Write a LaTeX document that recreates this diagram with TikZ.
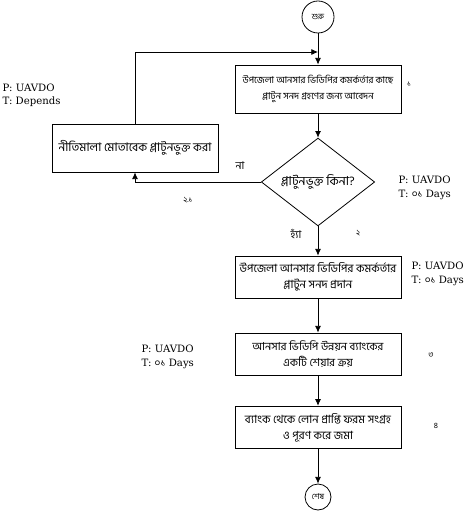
\documentclass[tikz,border=0pt]{standalone}
\usepackage{fontspec}
\setmainfont{DejaVu Serif}
\newfontfamily\bnfont[Script=Bengali]{Hind Siliguri}
\usetikzlibrary{shapes.geometric, arrows.meta}

\newcommand{\bnsize}[1]{\bnfont\fontsize{#1}{12}\selectfont}

\begin{document}
\begin{tikzpicture}[x=0.75pt, y=-0.75pt,
    procbox/.style={draw, semithick, minimum width=124.5pt, align=center,
        font=\bnsize{8}, inner sep=2pt},
    decision/.style={draw, semithick, diamond, minimum width=85pt, minimum height=64pt,
        inner sep=0pt, font=\bnsize{9.3}},
    terminal/.style={draw, semithick, circle, inner sep=0pt, font=\bnsize{6}},
    note/.style={align=left, anchor=west, font=\fontsize{7.6}{10}\selectfont},
    stepnum/.style={font=\bnsize{6}},
    flow/.style={-{Latex[length=5pt,width=4.5pt]}, semithick}]

    \useasboundingbox (0,0) rectangle (466,513);

    % ;- main column ;-
    \node[terminal, minimum size=24pt] (start) at (318,17) {শুরু};
    \node[procbox, minimum height=36pt, font=\bnsize{7.1}] (apply) at (318,89)
        {উপজেলা আনসার ভিডিপির কমর্কর্তার কাছে\\প্লাটুন সনদ গ্রহণের জন্য আবেদন};
    \node[decision] (check) at (318,182) {প্লাটুনভুক্ত কিনা?};
    \node[procbox, minimum height=31.5pt, font=\bnsize{8.5}] (grant) at (318,277)
        {উপজেলা আনসার ভিডিপির কমর্কর্তার\\প্লাটুন সনদ প্রদান};
    \node[procbox, minimum height=31.5pt, font=\bnsize{8.3}] (share) at (318,354)
        {আনসার ভিডিপি উন্নয়ন ব্যাংকের\\একটি শেয়ার ক্রয়};
    \node[procbox, minimum height=32pt, font=\bnsize{8.5}] (form) at (318,427.5)
        {ব্যাংক থেকে লোন প্রাপ্তি ফরম সংগ্রহ\\ও পূরণ করে জমা};
    \node[terminal, minimum size=19.5pt] (finish) at (318,497) {শেষ};

    % side branch (not yet in platoon)
    \node[procbox, minimum height=36pt, font=\bnsize{8.9}] (policy) at (135,148)
        {নীতিমালা মোতাবেক প্লাটুনভুক্ত করা};
    \coordinate (join) at (318,52);

    % ;- connectors ;-
    \draw[flow] (start) -- (apply);
    \draw[flow] (apply) -- (check);
    \draw[flow] (check) -- (grant);
    \draw[flow] (grant) -- (share);
    \draw[flow] (share) -- (form);
    \draw[flow] (form) -- (finish);
    \draw[flow] (check.west) -| (policy.south);
    \draw[flow] (policy.north) |- (join);

    % branch labels
    \node[font=\bnsize{8}] (no) at (240,166) {না};
    \node[font=\bnsize{8}] (yes) at (296,234) {হ্যাঁ};

    % step numbers
    \node[stepnum] (n1) at (409,84) {১};
    \node[stepnum] (n21) at (188,200) {২.১};
    \node[stepnum] (n2) at (358,233) {২};
    \node[stepnum] (n3) at (431,355) {৩};
    \node[stepnum] (n4) at (436,426) {৪};

    % responsible person / time
    \node[note] (pt1) at (-2,95) {P: UAVDO\\T: Depends};
    \node[note] (pt2) at (394,188) {P: UAVDO\\T: {\bnfont ০১} Days};
    \node[note] (pt3) at (407,274) {P: UAVDO\\T: {\bnfont ০১} Days};
    \node[note] (pt4) at (137,357) {P: UAVDO\\T: {\bnfont ০১} Days};

\end{tikzpicture}
\end{document}
